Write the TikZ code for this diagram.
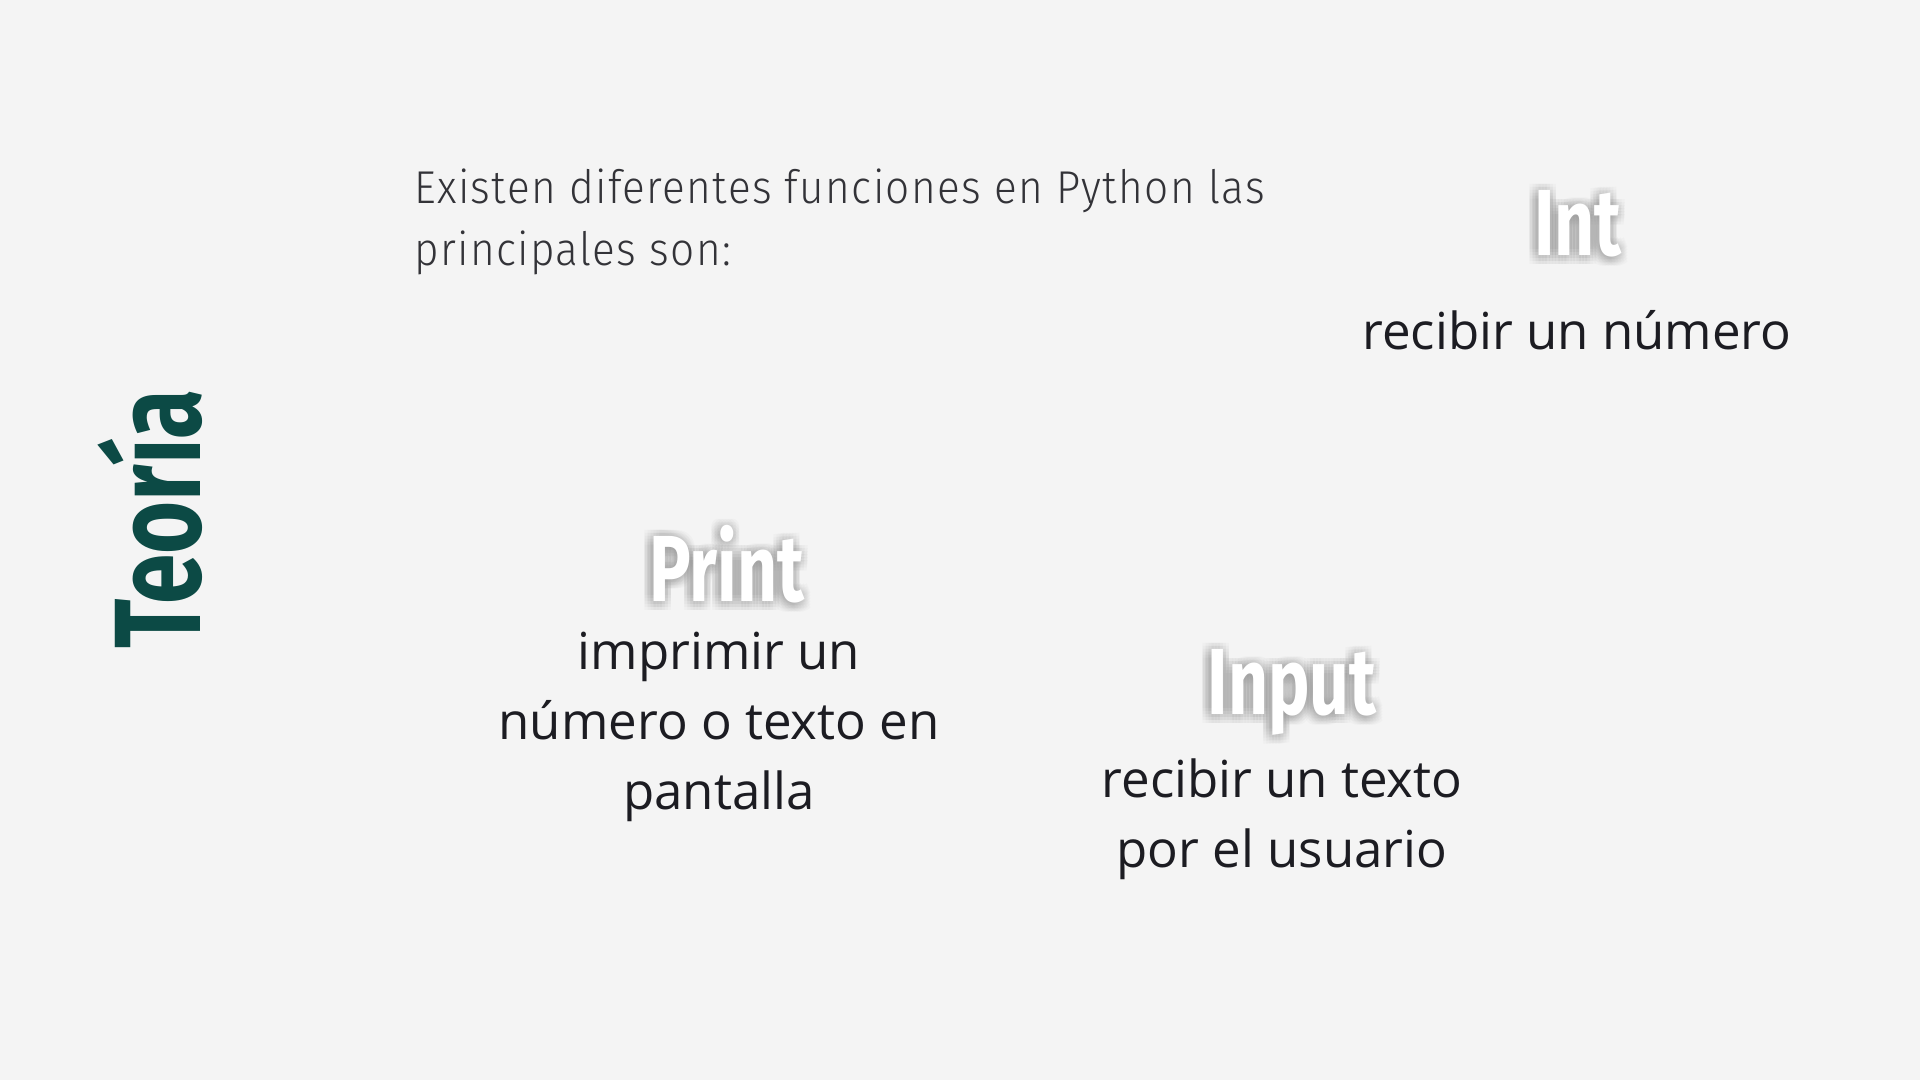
\documentclass[tikz,border=0pt]{standalone}
\usepackage{fontspec}
\usetikzlibrary{calc}
\setmainfont{Open Sans}
\newfontfamily\headfont[FakeStretch=0.74]{Fira Sans}
\newfontfamily\introfont[FakeStretch=0.92,LetterSpace=3]{Fira Sans Light}
\definecolor{bgcol}{HTML}{F4F4F4}
\definecolor{teal}{HTML}{0C4A45}
\definecolor{ink}{HTML}{1C1C22}

\begin{document}
\begin{tikzpicture}[x=1pt,y=-1pt,
    intro/.style={inner sep=0pt, align=left, text=ink!90, font=\introfont\fontsize{46}{62}\selectfont},
    title/.style={inner sep=0pt, text=teal, font=\headfont\bfseries\fontsize{123}{123}\selectfont},
    head/.style={inner sep=0pt, text=white, font=\headfont\bfseries\fontsize{94}{94}\selectfont},
    glowcopy/.style={text=black!45, opacity=0.045},
    desc/.style={inner sep=0pt, align=center, text=ink, font=\fontsize{51}{70}\selectfont}]
  % background
  \fill[bgcol] (0,0) rectangle (1920,1080);
  \useasboundingbox (0,0) rectangle (1920,1080);
  % The intro and the side title (base = last line)
  \node[intro, anchor=base west] (intro) at (414,265)
    {Existen diferentes funciones en Python las\\principales son:};
  \node[title, rotate=90] (teoria) at (150,519) {Teoría};
  % The headings with their soft shadow
  \foreach \name/\pos/\txt in {int/{1578,255}/Int, print/{727,601}/Print, input/{1292,714}/Input}
  {
    \foreach \dx in {-9,-6,...,6}
      \foreach \dy in {-6,-3,...,9}
        \node[head, glowcopy, anchor=base] at ($(\pos)+(\dx,\dy)$) {\txt};
    \node[head, anchor=base] (\name) at (\pos) {\txt};
  }
  % The descriptions
  \node[desc, anchor=base] (intdesc) at (1577,349) {recibir un número};
  \node[desc, anchor=base] (printdesc) at (719,809) {imprimir un\\número o texto en\\pantalla};
  \node[desc, anchor=base] (inputdesc) at (1282,867) {recibir un texto\\por el usuario};
\end{tikzpicture}
\end{document}
